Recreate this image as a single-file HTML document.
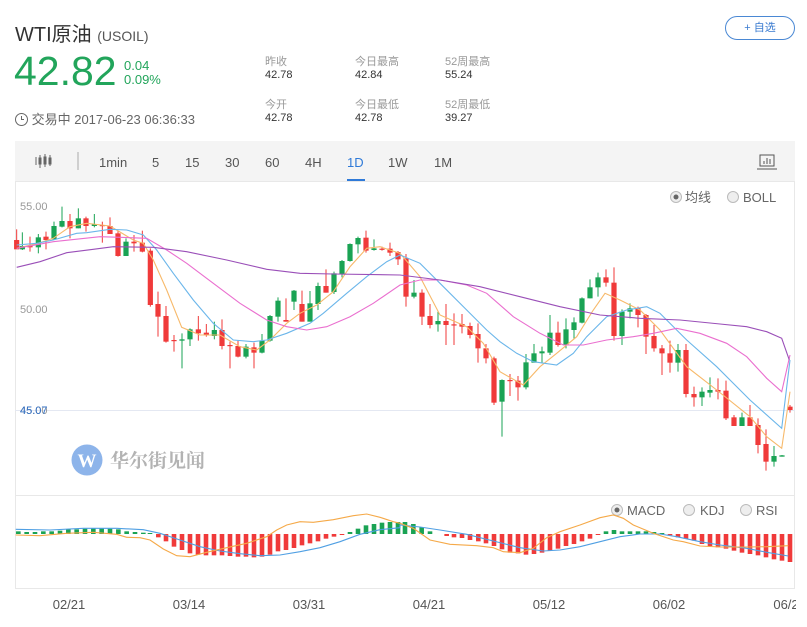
<!DOCTYPE html>
<html><head><meta charset="utf-8">
<style>
*{margin:0;padding:0;box-sizing:border-box}
body{width:807px;height:627px;background:#fff;font-family:"Liberation Sans","Noto Sans CJK SC",sans-serif;position:relative;overflow:hidden;color:#333}
.a{position:absolute;white-space:nowrap}
.g{color:#22a55b}
.lbl{font-size:11px;color:#999}
.val{font-size:11px;color:#333}
</style></head><body>
<div class="a" style="left:15px;top:18px;font-size:20px;color:#333">WTI原油 <span style="font-size:14px;color:#555">(USOIL)</span></div>
<div class="a g" style="left:14px;top:48px;font-size:41px;line-height:46px">42.82</div>
<div class="a g" style="left:124px;top:59px;font-size:13px;line-height:14px">0.04<br>0.09%</div>
<div class="a" style="left:15px;top:109px;font-size:13px;color:#666"><span style="display:inline-block;width:13px;height:13px;border:1.3px solid #666;border-radius:50%;vertical-align:-2px;position:relative"><span style="position:absolute;left:4.5px;top:1.5px;width:3px;height:4px;border-left:1.2px solid #666;border-bottom:1.2px solid #666"></span></span> 交易中 2017-06-23 06:36:33</div>
<div class="a lbl" style="left:265px;top:53px">昨收</div><div class="a val" style="left:265px;top:69px">42.78</div>
<div class="a lbl" style="left:355px;top:53px">今日最高</div><div class="a val g" style="left:355px;top:69px">42.84</div>
<div class="a lbl" style="left:445px;top:53px">52周最高</div><div class="a val" style="left:445px;top:69px">55.24</div>
<div class="a lbl" style="left:265px;top:96px">今开</div><div class="a val g" style="left:265px;top:112px">42.78</div>
<div class="a lbl" style="left:355px;top:96px">今日最低</div><div class="a val g" style="left:355px;top:112px">42.78</div>
<div class="a lbl" style="left:445px;top:96px">52周最低</div><div class="a val" style="left:445px;top:112px">39.27</div>
<div class="a" style="left:725px;top:16px;width:70px;height:24px;border:1px solid #4a88d4;border-radius:12px;color:#3a7bd0;font-size:11px;text-align:center;line-height:22px">+ 自选</div>
<div class="a" style="left:15px;top:141px;width:780px;height:40px;background:#f4f4f4"></div>
<div class="a" style="left:15px;top:155px;font-size:13px;color:#555">
<span class="a" style="left:84px">1min</span><span class="a" style="left:137px">5</span><span class="a" style="left:170px">15</span><span class="a" style="left:210px">30</span><span class="a" style="left:250px">60</span><span class="a" style="left:290px">4H</span><span class="a" style="left:332px;color:#2f7ad8">1D</span><span class="a" style="left:373px">1W</span><span class="a" style="left:419px">1M</span></div>
<div class="a" style="left:347px;top:179px;width:18px;height:2px;background:#2f7ad8"></div>
<svg class="a" style="left:0;top:0" width="807" height="627">
<g stroke="#666" fill="#666">
<line x1="36" y1="157" x2="36" y2="165"/><line x1="40" y1="155" x2="40" y2="168"/><rect x="39" y="158" width="2" height="6"/><line x1="45" y1="154" x2="45" y2="167"/><rect x="44" y="157" width="2" height="7"/><line x1="50" y1="155" x2="50" y2="166"/><rect x="49" y="158" width="2" height="6"/>
<line x1="78" y1="152" x2="78" y2="170" stroke="#aaa"/>
</g>
<g stroke="#555" fill="none"><rect x="760" y="155" width="14" height="11"/><line x1="757" y1="169" x2="777" y2="169"/><line x1="764" y1="164" x2="764" y2="161"/><line x1="767" y1="164" x2="767" y2="158"/><line x1="770" y1="164" x2="770" y2="159"/></g>
<rect x="15.5" y="181.5" width="779" height="407" fill="none" stroke="#e8e8e8"/>
<line x1="15" y1="495.5" x2="795" y2="495.5" stroke="#e8e8e8"/>
<line x1="15" y1="410.5" x2="795" y2="410.5" stroke="#e4e8f2"/>
<g font-size="11" fill="#999"><text x="20" y="210">55.00</text><text x="20" y="313">50.00</text><text x="20" y="414">45.00</text></g>
<text x="20" y="414" font-size="11" fill="#2f6fc6">45.07</text>
<circle cx="676" cy="197" r="5.5" fill="#eee" stroke="#bbb"/><circle cx="676" cy="197" r="2.5" fill="#666"/>
<text x="685" y="202" font-size="13" fill="#666">均线</text>
<circle cx="733" cy="197" r="5.5" fill="#eee" stroke="#bbb"/>
<text x="743" y="202" font-size="13" fill="#666">BOLL</text>
<circle cx="617" cy="510" r="5.5" fill="#eee" stroke="#bbb"/><circle cx="617" cy="510" r="2.5" fill="#666"/>
<text x="627" y="515" font-size="13" fill="#666">MACD</text>
<circle cx="689" cy="510" r="5.5" fill="#eee" stroke="#bbb"/><text x="700" y="515" font-size="13" fill="#666">KDJ</text>
<circle cx="746" cy="510" r="5.5" fill="#eee" stroke="#bbb"/><text x="756" y="515" font-size="13" fill="#666">RSI</text>
<circle cx="87" cy="460" r="15.5" fill="#8db4ea"/>
<text x="87" y="467" font-size="19" font-weight="bold" fill="#fff" text-anchor="middle" font-family="Liberation Serif,serif">W</text>
<text x="110" y="467" font-size="19" font-weight="bold" fill="#b3b3b3" font-family="Noto Serif CJK SC,serif">华尔街见闻</text>
<g id="cand"></g>
<g id="lines" fill="none" stroke-width="1.2"></g>
<g id="macd"></g>
<g font-size="13" fill="#555" text-anchor="middle"><text x="69" y="609">02/21</text><text x="189" y="609">03/14</text><text x="309" y="609">03/31</text><text x="429" y="609">04/21</text><text x="549" y="609">05/12</text><text x="669" y="609">06/02</text><text x="786" y="609">06/2</text></g>
<rect x="796" y="590" width="11" height="30" fill="#fff"/>
</svg>
<script>
var NS="http://www.w3.org/2000/svg";
function el(p,t,a){var e=document.createElementNS(NS,t);for(var k in a)e.setAttribute(k,a[k]);p.appendChild(e);return e;}
var R="#f03a3a",G="#1aa354";
var c2=[[50,'r',118,175,150,178],[67,'g',127,180,168,178],[90,'r',140,185,168,172],[115,'g',132,190,142,172],[138,'r',125,178,140,150],[162,'g',95,150,108,148],[186,'g',50,112,93,110],[210,'r',72,145,93,115],[235,'g',55,115,85,115],[258,'r',80,125,85,108],[283,'g',72,112,103,108],[307,'r',95,158,105,108],[330,'r',82,132,108,132],[354,'r',122,200,130,198],[378,'g',145,198,155,198],[402,'r',135,185,155,160],[427,'r',122,187,158,185],[451,'r',175,350,182,345],[474,'r',305,440,342,380],[498,'r',348,458,378,455],[522,'r',435,485,450,453],[546,'g',430,535,448,452],[570,'g',415,468,418,448],[595,'r',378,452,418,430],[619,'r',402,440,428,436],[643,'g',395,448,420,438],[666,'r',388,478,420,468],[690,'r',455,535,465,468],[714,'r',452,502,468,500],[738,'g',462,505,470,500],[762,'r',458,535,472,488],[786,'g',432,490,452,488],[810,'g',375,455,378,452],[834,'g',322,395,332,380],[858,'r',325,395,390,395],[882,'g',300,360,302,335],[906,'r',302,395,342,395],[930,'g',303,395,340,395],[954,'g',278,360,288,342],[978,'r',238,308,288,308],[1002,'g',245,312,250,306],[1026,'g',210,262,213,252],[1050,'g',160,215,162,213],[1074,'g',140,190,144,163],[1098,'r',122,188,143,182],[1122,'g',148,182,175,180],[1146,'r',170,182,176,178],[1170,'r',158,198,176,188],[1194,'r',183,225,186,208]];
var c3=[[18,'r',192,350,205,320],[42,'g',270,325,308,320],[66,'r',298,405,308,380],[90,'r',342,415,378,405],[114,'g',365,425,393,403],[138,'r',342,465,393,405],[162,'r',370,465,403,405],[186,'r',372,430,402,410],[210,'r',398,445,408,435],[234,'r',400,518,432,475],[258,'r',462,520,475,505],[282,'r',500,645,505,638],[306,'g',568,740,570,635],[330,'r',552,618,570,572],[354,'r',558,632,572,592],[378,'g',492,598,517,592],[402,'g',462,518,490,518],[426,'g',470,518,484,490],[450,'g',375,495,428,488],[474,'r',395,470,428,465],[498,'g',385,475,418,465],[522,'g',382,448,397,420],[546,'g',322,400,325,398],[570,'g',268,325,292,325],[594,'g',248,320,262,292],[618,'r',238,290,262,278],[642,'r',232,452,278,438],[666,'g',358,465,365,438],[690,'g',340,385,355,365],[714,'r',350,412,355,375],[738,'r',372,492,375,440],[762,'r',405,485,438,475],[786,'r',465,555,475,490],[810,'r',452,548,490,518],[834,'g',462,545,480,518],[858,'r',462,622,480,612],[882,'r',590,650,612,622],[906,'g',592,648,605,622],[930,'g',562,622,600,608],[954,'r',565,628,600,605],[978,'r',572,690,602,685],[1002,'r',675,708,682,708],[1026,'g',668,708,682,708],[1050,'r',645,708,682,708],[1074,'r',685,790,705,765],[1098,'r',718,842,762,815],[1122,'g',768,830,798,815],[1146,'g',795,800,796,800],[1170,'r',645,668,650,660]];
var cg=document.getElementById('cand');
function cand(list,ox){list.forEach(function(c){var x=ox+c[0]/3,col=c[1]=='r'?R:G;
el(cg,'line',{x1:x,x2:x,y1:190+c[2]/3,y2:190+c[3]/3,stroke:col,'stroke-width':1});
var t=190+c[4]/3,b=190+c[5]/3;if(b-t<1.2)b=t+1.2;
el(cg,'rect',{x:x-2.6,y:t,width:5.2,height:b-t,fill:col});});}
cand(c2,0);cand(c3,400);
function pl(pts2,pts3,col,g,oy){var s=[];pts2.forEach(function(p){s.push((p[0]/3).toFixed(1)+','+(oy+p[1]/3).toFixed(1))});pts3.forEach(function(p){s.push((400+p[0]/3).toFixed(1)+','+(oy+p[1]/3).toFixed(1))});
el(g,'polyline',{points:s.join(' '),stroke:col,fill:'none','stroke-width':1.1});}
var lg=document.getElementById('lines');
pl([[50,175],[115,160],[160,145],[210,110],[260,100],[330,108],[400,150],[430,160],[460,210],[500,300],[545,412],[600,435],[660,435],[720,470],[770,480],[810,450],[860,400],[900,370],[950,345],[1000,305],[1050,230],[1100,175],[1140,170],[1200,190]],[[60,260],[120,375],[200,410],[250,460],[300,545],[370,585],[420,530],[470,490],[530,440],[580,360],[615,310],[660,330],[720,360],[780,420],[860,530],[950,600],[1050,680],[1100,740],[1145,775],[1170,605]],'#f7b96a',lg,190);
pl([[50,165],[110,160],[160,150],[230,130],[260,128],[330,118],[380,120],[430,135],[470,180],[520,250],[580,330],[640,400],[700,450],[760,455],[800,450],[860,430],[930,400],[970,370],[1040,310],[1100,260],[1160,215],[1200,195]],[[60,220],[120,280],[200,360],[260,420],[300,455],[350,490],[400,515],[470,525],[520,490],[560,440],[620,380],[680,360],[740,350],[780,370],[860,450],[950,530],[1050,630],[1145,715],[1170,510]],'#6bb6ea',lg,190);
pl([[50,175],[160,155],[300,140],[360,142],[440,145],[500,180],[560,220],[640,280],[720,340],[800,390],[860,410],[920,420],[980,410],[1050,380],[1120,340],[1200,285]],[[60,270],[120,270],[200,285],[260,310],[340,380],[420,430],[490,465],[550,465],[620,450],[700,440],[760,430],[830,415],[900,430],[980,460],[1040,500],[1100,565],[1145,605],[1170,495]],'#ea6fcf',lg,190);
pl([[50,232],[120,215],[200,188],[280,178],[340,170],[460,172],[560,185],[680,210],[800,238],[900,250],[1000,252],[1200,255]],[[120,270],[240,290],[360,320],[480,350],[600,375],[720,385],[840,390],[960,402],[1040,410],[1100,425],[1145,445],[1168,510]],'#9a4fb8',lg,190);
var mg=document.getElementById('macd');
var h5=[[55,-8],[80,-6],[105,-6],[130,-8],[155,-8],[180,-10],[205,-14],[230,-14],[255,-16],[280,-18],[305,-18],[330,-16],[355,-14],[380,-8],[405,-6],[430,-4],[450,-2],[475,10],[498,22],[522,38],[546,48],[570,58],[594,62],[618,64],[642,64],[666,64],[690,66],[714,68],[738,68],[762,70],[786,68],[810,62],[834,52],[858,48],[882,42],[906,34],[930,28],[954,22],[978,14],[1002,8],[1026,2],[1050,-6],[1074,-16],[1098,-26],[1122,-30],[1146,-34],[1170,-36],[1194,-36]];
var h6=[[15,-36],[40,-30],[65,-20],[90,-8],[140,6],[162,10],[186,12],[210,18],[235,22],[258,28],[282,36],[306,46],[330,56],[354,58],[378,62],[402,60],[426,56],[450,50],[474,44],[498,36],[522,30],[546,22],[570,14],[594,2],[618,-8],[642,-12],[666,-8],[690,-8],[714,-8],[738,-8],[762,-6],[786,-2],[810,4],[834,10],[858,14],[882,20],[906,30],[930,36],[954,40],[978,44],[1002,50],[1026,56],[1050,60],[1074,64],[1098,70],[1122,76],[1146,80],[1170,84]];
function bars(l,ox){l.forEach(function(b){var x=ox+b[0]/3,h=b[1]/3,z=534;var col=h>0?R:G;if(Math.abs(h)<1)h=h>0?1:-1;
el(mg,'rect',{x:x-2.3,y:h>0?z:z+h,width:4.6,height:Math.abs(h),fill:col});});}
bars(h5,0);bars(h6,400);
pl([[47,103],[150,105],[250,100],[350,100],[430,104],[480,115],[540,135],[600,155],[660,168],[720,176],[780,182],[840,180],[900,170],[960,158],[1020,140],[1080,118],[1140,104],[1200,98]],[[0,90],[60,96],[120,105],[200,118],[280,138],[360,158],[430,168],[480,165],[540,155],[600,140],[660,125],[720,117],[780,117],[830,125],[900,140],[960,150],[1040,160],[1100,172],[1165,183]],'#4f9fe3',mg,495);
pl([[47,120],[120,122],[200,115],[280,112],[350,118],[380,127],[420,128],[450,135],[490,162],[530,182],[570,185],[620,172],[680,158],[740,145],[800,125],[830,105],[860,90],[900,80],[940,82],[1000,74],[1060,62],[1100,57],[1140,67],[1180,80],[1200,85]],[[40,100],[90,135],[150,148],[230,152],[280,158],[310,170],[360,173],[400,160],[440,128],[480,110],[540,90],[600,68],[640,60],[670,70],[700,90],[760,115],[820,135],[850,140],[900,153],[960,156],[1040,156],[1100,155],[1165,152]],'#f5a948',mg,495);
</script>
</body></html>
